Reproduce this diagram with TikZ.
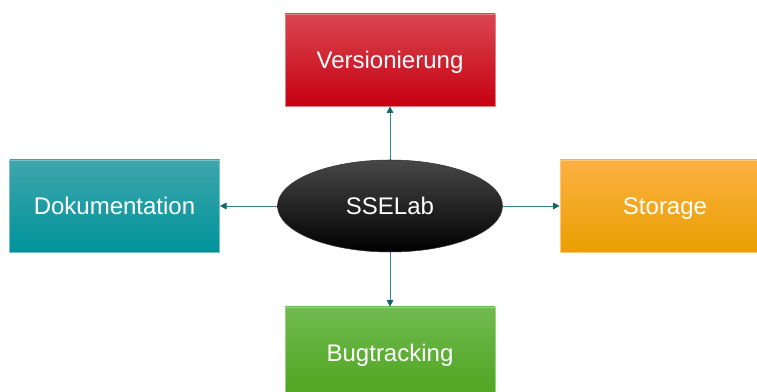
\documentclass[tikz,border=0pt]{standalone}
\usepackage{fontspec}
\setmainfont{Liberation Sans}
\usepackage{tikz}
\usetikzlibrary{
  positioning,
  arrows.meta,
  shapes.geometric
}
\definecolor{redtop}{RGB}{218,70,80}
\definecolor{redbot}{RGB}{198,0,18}
\definecolor{tealtop}{RGB}{62,166,172}
\definecolor{tealbot}{RGB}{0,147,155}
\definecolor{orangetop}{RGB}{252,176,66}
\definecolor{orangebot}{RGB}{233,160,0}
\definecolor{greentop}{RGB}{112,186,80}
\definecolor{greenbot}{RGB}{78,164,30}
\definecolor{linkline}{RGB}{52,132,136}
\definecolor{linkhead}{RGB}{24,102,108}
\tikzstyle{label}=[text=white, font=\fontsize{18}{22}\selectfont, text height=12.9pt, text depth=0pt]
\tikzstyle{box}=[label, rectangle, minimum width=157.5pt, minimum height=69pt, inner sep=0pt,
  line width=0.5pt]
\tikzstyle{link}=[-{Triangle[length=5pt, width=5pt, color=linkhead]}, draw=linkline, line width=0.6pt]

\begin{document}
\begin{tikzpicture}[x=0.75pt, y=0.75pt]
    \def\cx{390};
    \def\cy{186};
    \useasboundingbox (0,0) rectangle (757,392);

    % 中心の楕円
    \node[label, ellipse, minimum width=168.75pt, minimum height=69pt, inner sep=0pt,
      top color=black!72, middle color=black, bottom color=black, draw=black!80] (hub) at (\cx,\cy) {SSELab};

    % 四つの箱
    \node[box, top color=redtop, bottom color=redbot, draw=redtop!70!white] (ver) at (\cx,332) {Versionierung};
    \node[box, top color=tealtop, bottom color=tealbot, draw=tealtop!70!white] (doku) at (114.5,\cy) {Dokumentation};
    \node[box, top color=orangetop, bottom color=orangebot, draw=orangetop!70!white] (store) at (665,\cy) {Storage};
    \node[box, top color=greentop, bottom color=greenbot, draw=greentop!70!white] (bug) at (\cx,39) {Bugtracking};

    % 矢印
    \draw[link] (hub) -- (ver);
    \draw[link] (hub) -- (doku);
    \draw[link] (hub) -- (store);
    \draw[link] (hub) -- (bug);
\end{tikzpicture}
\end{document}
